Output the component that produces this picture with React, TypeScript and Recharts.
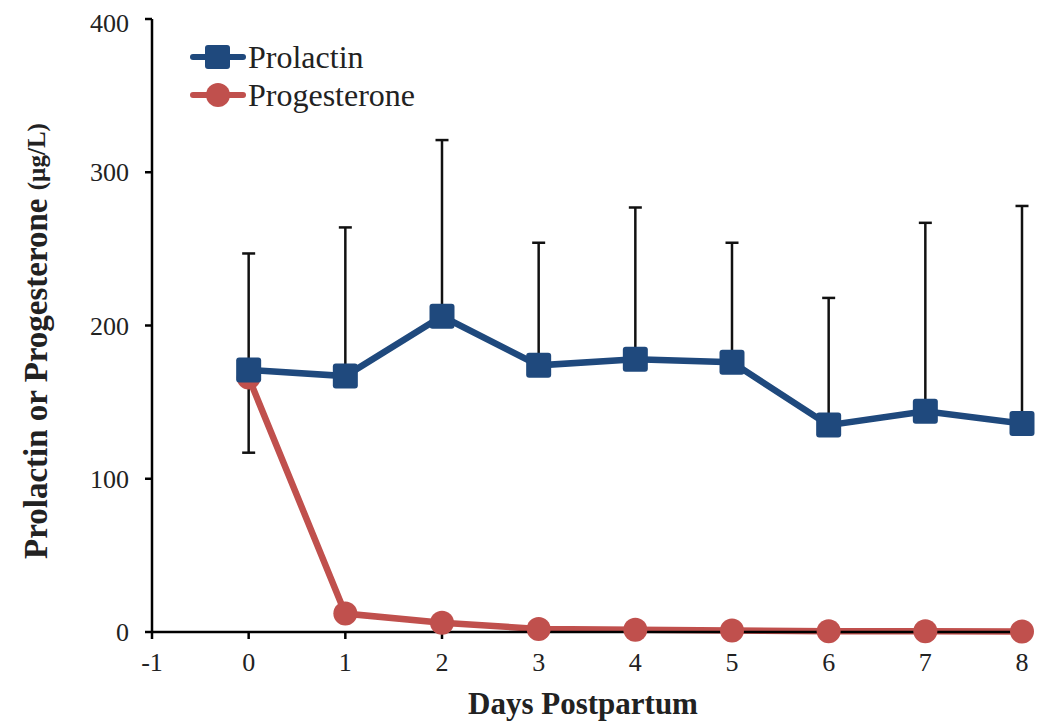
import React from 'react';
import { LineChart, Line, XAxis, YAxis, ErrorBar } from 'recharts';

const days = [0, 1, 2, 3, 4, 5, 6, 7, 8];
const prolactin = [171, 167, 206, 174, 178, 176, 135, 144, 136];
const prolactinUpper = [76, 97, 115, 80, 99, 78, 83, 123, 142];
const progesterone = [166, 12, 6, 2, 1.5, 1, 0.5, 0.5, 0.3];
const progesteroneLower = [49, 0, 0, 0, 0, 0, 0, 0, 0];
const xTicks = [-1, 0, 1, 2, 3, 4, 5, 6, 7, 8];
const yTicks = [0, 100, 200, 300, 400];

const BLUE = '#1F497D';
const RED = '#C0504D';
const FONT = '"Liberation Serif", "DejaVu Serif", serif';

const data = days.map((d, i) => ({
  day: d,
  prolactin: prolactin[i],
  prolactinErr: [0, prolactinUpper[i]],
  progesterone: progesterone[i],
  progesteroneErr: [progesteroneLower[i], 0],
}));

const SquareDot = (props: any) => {
  const { cx, cy } = props;
  if (cx == null || cy == null) return null;
  return <rect x={cx - 12.5} y={cy - 12.5} width={25} height={25} rx={3} fill={BLUE} />;
};

const CircleDot = (props: any) => {
  const { cx, cy } = props;
  if (cx == null || cy == null) return null;
  return <circle cx={cx} cy={cy} r={12} fill={RED} />;
};

const XTitle = (props: any) => {
  const { viewBox } = props;
  return (
    <text x={viewBox.x + viewBox.width / 2 - 4} y={695} textAnchor="middle" dominantBaseline="central"
      fill="#222" fontSize={31} fontWeight="bold" fontFamily={FONT}>
      Days Postpartum
    </text>
  );
};

const YTitle = () => (
  <text x={28} y={333} transform="rotate(-90 28 333)" textAnchor="middle" dominantBaseline="central"
    fill="#222" fontWeight="bold" fontFamily={FONT}>
    <tspan fontSize={33}>Prolactin or Progesterone </tspan>
    <tspan fontSize={25}>(µg/L)</tspan>
  </text>
);

const legendItems = [
  { name: 'Prolactin', color: BLUE, square: true },
  { name: 'Progesterone', color: RED, square: false },
];

export default function App() {
  return (
    <div style={{ position: 'relative', width: 1035, height: 713, background: '#fff' }}>
      <LineChart width={1035} height={713} data={data} margin={{ top: 11, right: 21, left: 0, bottom: 0 }}>
        <XAxis
          dataKey="day"
          type="number"
          domain={[-1, 8]}
          ticks={xTicks}
          height={89}
          tickSize={7}
          tickMargin={14}
          stroke="#000"
          strokeWidth={2.5}
          tick={{ fill: '#222', fontSize: 26, fontFamily: FONT }}
          label={<XTitle />}
        />
        <YAxis
          type="number"
          domain={[0, 400]}
          ticks={yTicks}
          width={144}
          tickSize={7}
          tickMargin={16}
          stroke="#000"
          strokeWidth={2.5}
          tick={{ fill: '#222', fontSize: 26, fontFamily: FONT }}
          label={<YTitle />}
        />
        <Line
          dataKey="progesterone"
          name="Progesterone"
          stroke={RED}
          strokeWidth={6.5}
          dot={<CircleDot />}
          isAnimationActive={false}
        >
          <ErrorBar dataKey="progesteroneErr" direction="y" width={6.5} stroke="#111" strokeWidth={2.5} />
        </Line>
        <Line
          dataKey="prolactin"
          name="Prolactin"
          stroke={BLUE}
          strokeWidth={6.5}
          dot={<SquareDot />}
          isAnimationActive={false}
        >
          <ErrorBar dataKey="prolactinErr" direction="y" width={6.5} stroke="#111" strokeWidth={2.5} />
        </Line>
      </LineChart>
      <div style={{ position: 'absolute', left: 182, top: 30, fontFamily: FONT, fontSize: 32, color: '#222' }}>
        {legendItems.map(item => (
          <div key={item.name} style={{ display: 'flex', alignItems: 'center', height: 38 }}>
            <svg width={56} height={30}>
              <line x1={3} y1={15} x2={53} y2={15} stroke={item.color} strokeWidth={6} strokeLinecap="round" />
              {item.square
                ? <rect x={15} y={3} width={25} height={24} rx={3} fill={item.color} />
                : <circle cx={28} cy={15} r={12} fill={item.color} />}
            </svg>
            <span style={{ marginLeft: 2, lineHeight: '38px' }}>{item.name}</span>
          </div>
        ))}
      </div>
    </div>
  );
}
